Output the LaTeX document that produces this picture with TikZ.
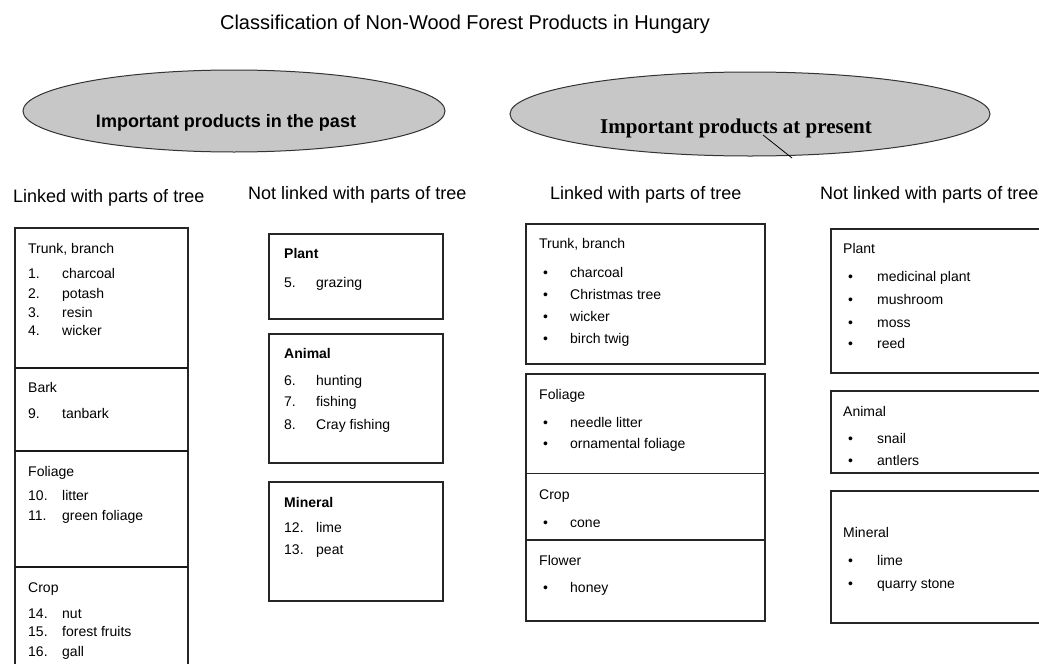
\documentclass[tikz,border=0pt]{standalone}
\usepackage{fontspec}
\setmainfont{Liberation Sans}
\newfontfamily\serifface{Liberation Serif}
\usetikzlibrary{shapes.geometric}
\tikzset{
    oval/.style={ellipse, draw=black!80, line width=1pt, fill=black!22, inner sep=0},
    entry/.style={anchor=base west, yshift=-5pt, inner sep=0, font=\fontsize{14}{16}\selectfont},
    heading/.style={anchor=base west, yshift=-6pt, inner sep=0, font=\fontsize{18}{20}\selectfont},
    panel/.style={draw=black!85, line width=1.2pt},
    divider/.style={draw=black!90, line width=1.8pt},
    thindivider/.style={draw=black!85, line width=1pt},
}
\newcommand{\listitem}[6]{%
    \node[entry] (#1m) at (#2, #4) {#5};
    \node[entry] (#1t) at (#3, #4) {#6};
}

\begin{document}
\begin{tikzpicture}[x=1pt, y=-1pt]
\clip (0, 0) rectangle (1039, 664);
\fill[white] (0, 0) rectangle (1039, 664);

% title
\node[inner sep=0, font=\fontsize{20}{22}\selectfont] (title) at (465, 24)
    {Classification of Non-Wood Forest Products in Hungary};

% ovals
\node[oval, minimum width=422, minimum height=82] (pastoval) at (234, 111) {};
\node[inner sep=0, font=\bfseries\fontsize{18}{20}\selectfont] (pasttext) at (226, 123)
    {Important products in the past};
\node[oval, minimum width=480, minimum height=84] (presoval) at (750, 114) {};
\node[inner sep=0, font=\serifface\bfseries\fontsize{21}{23}\selectfont] (prestext) at (736, 128)
    {Important products at present};
\coordinate (tickA) at (763, 135);
\coordinate (tickB) at (792, 158);
\draw[line width=0.8pt] (tickA) -- (tickB);

% column headings
\node[heading] (pastlinked) at (13, 196) {Linked with parts of tree};
\node[heading] (pastnot) at (248, 193) {Not linked with parts of tree};
\node[heading] (preslinked) at (550, 193) {Linked with parts of tree};
\node[heading] (presnot) at (820, 193) {Not linked with parts of tree};

% past, linked
\draw[panel] (15, 228) rectangle (188, 690);
\draw[divider] (15, 368) -- (188, 368);
\draw[divider] (15, 451) -- (188, 451);
\draw[divider] (15, 567) -- (188, 567);
\node[entry] (trunkA) at (28, 248) {Trunk, branch};
\listitem{pa}{28}{62}{273}{1.}{charcoal}
\listitem{pb}{28}{62}{293}{2.}{potash}
\listitem{pc}{28}{62}{312}{3.}{resin}
\listitem{pd}{28}{62}{330}{4.}{wicker}
\node[entry] (barkA) at (28, 387) {Bark};
\listitem{pe}{28}{62}{413}{9.}{tanbark}
\node[entry] (foliageA) at (28, 471) {Foliage};
\listitem{pf}{28}{62}{495}{10.}{litter}
\listitem{pg}{28}{62}{515}{11.}{green foliage}
\node[entry] (cropA) at (28, 587) {Crop};
\listitem{ph}{28}{62}{613}{14.}{nut}
\listitem{pi}{28}{62}{631}{15.}{forest fruits}
\listitem{pj}{28}{62}{651}{16.}{gall}

% past, not linked
\draw[panel] (269, 234) rectangle (443, 319);
\draw[panel] (269, 334) rectangle (443, 463);
\draw[panel] (269, 482) rectangle (443, 601);
\node[entry, font=\bfseries\fontsize{14}{16}\selectfont] (plantA) at (284, 253) {Plant};
\listitem{qa}{284}{316}{282}{5.}{grazing}
\node[entry, font=\bfseries\fontsize{14}{16}\selectfont] (animalA) at (284, 353) {Animal};
\listitem{qb}{284}{316}{380}{6.}{hunting}
\listitem{qc}{284}{316}{401}{7.}{fishing}
\listitem{qd}{284}{316}{424}{8.}{Cray fishing}
\node[entry, font=\bfseries\fontsize{14}{16}\selectfont] (mineralA) at (284, 502) {Mineral};
\listitem{qe}{284}{316}{527}{12.}{lime}
\listitem{qf}{284}{316}{549}{13.}{peat}

% present, linked
\draw[panel] (526, 224) rectangle (765, 364);
\draw[panel] (526, 374) rectangle (765, 621);
\draw[thindivider] (526, 473) -- (765, 473);
\draw[panel] (526, 540) -- (765, 540);
\node[entry] (trunkB) at (539, 243) {Trunk, branch};
\listitem{ra}{543}{570}{272}{\textbullet}{charcoal}
\listitem{rb}{543}{570}{294}{\textbullet}{Christmas tree}
\listitem{rc}{543}{570}{316}{\textbullet}{wicker}
\listitem{rd}{543}{570}{338}{\textbullet}{birch twig}
\node[entry] (foliageB) at (539, 394) {Foliage};
\listitem{re}{543}{570}{422}{\textbullet}{needle litter}
\listitem{rf}{543}{570}{443}{\textbullet}{ornamental foliage}
\node[entry] (cropB) at (539, 494) {Crop};
\listitem{rg}{543}{570}{522}{\textbullet}{cone}
\node[entry] (flowerB) at (539, 560) {Flower};
\listitem{rh}{543}{570}{587}{\textbullet}{honey}

% present, not linked
\draw[panel] (831, 229) rectangle (1050, 373);
\draw[panel] (831, 391) rectangle (1050, 473);
\draw[panel] (831, 491) rectangle (1050, 623);
\node[entry] (plantB) at (843, 248) {Plant};
\listitem{sa}{848}{877}{276}{\textbullet}{medicinal plant}
\listitem{sb}{848}{877}{299}{\textbullet}{mushroom}
\listitem{sc}{848}{877}{322}{\textbullet}{moss}
\listitem{sd}{848}{877}{343}{\textbullet}{reed}
\node[entry] (animalB) at (843, 411) {Animal};
\listitem{se}{848}{877}{438}{\textbullet}{snail}
\listitem{sf}{848}{877}{460}{\textbullet}{antlers}
\node[entry] (mineralB) at (843, 532) {Mineral};
\listitem{sg}{848}{877}{560}{\textbullet}{lime}
\listitem{sh}{848}{877}{583}{\textbullet}{quarry stone}
\end{tikzpicture}
\end{document}
